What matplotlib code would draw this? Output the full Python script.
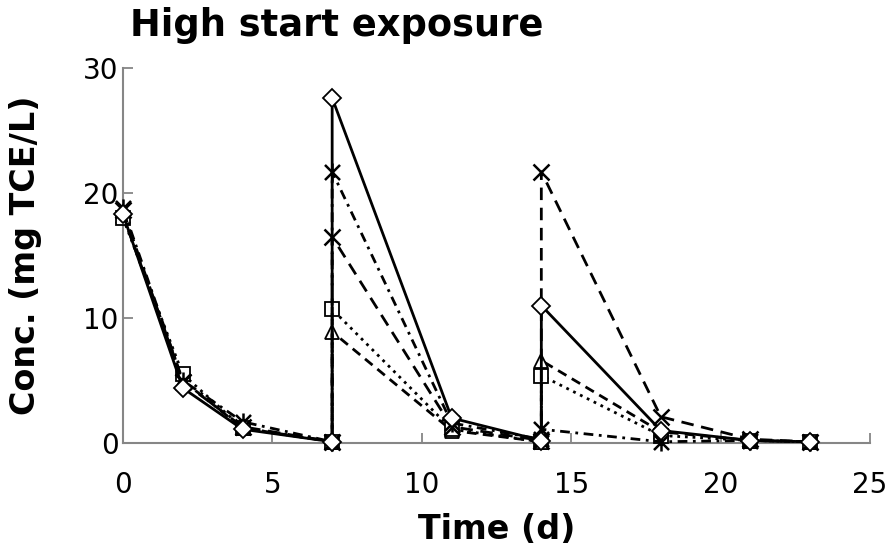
import matplotlib
matplotlib.use("Agg")
import matplotlib.pyplot as plt
from matplotlib.path import Path

# Sampling days (spikes at day 7 and day 14 appear as two points on the same day)
days = [0, 2, 4, 7, 7, 11, 14, 14, 18, 21, 23]

# TCE concentrations (mg/L) for each reactor
conc_diamond = [18.3, 4.4, 1.1, 0.1, 27.6, 2.0, 0.2, 11.0, 1.0, 0.2, 0.1]
conc_square = [18.0, 5.5, 1.2, 0.1, 10.7, 1.1, 0.1, 5.4, 0.6, 0.2, 0.1]
conc_triangle = [18.2, 5.0, 1.2, 0.1, 8.9, 1.0, 0.1, 6.6, 0.9, 0.2, 0.1]
conc_star = [18.8, 5.0, 1.7, 0.1, 21.7, 1.6, 0.3, 1.1, 0.1, 0.2, 0.1]
conc_cross = [18.6, 4.9, 1.3, 0.1, 16.5, 1.3, 0.2, 21.7, 2.1, 0.3, 0.1]

x_ticks = [0, 5, 10, 15, 20, 25]
y_ticks = [0, 10, 20, 30]

plt.rcParams["font.family"] = ["DejaVu Sans"]
plt.rcParams["lines.scale_dashes"] = False

# asterisk marker: an "x" with a vertical stroke
star_path = Path(
    [(-0.5, -0.5), (0.5, 0.5), (-0.5, 0.5), (0.5, -0.5), (0, -0.6), (0, 0.6)],
    [Path.MOVETO, Path.LINETO, Path.MOVETO, Path.LINETO, Path.MOVETO, Path.LINETO],
)

fig = plt.figure(figsize=(8.91, 5.54), dpi=100)
ax = fig.add_axes([123 / 891, 1 - 443 / 554, (870 - 123) / 891, (443 - 68) / 554])

lw = 2.0
common = dict(color="black", linewidth=lw, markeredgecolor="black",
              markerfacecolor="white", clip_on=False)

ax.plot(days, conc_triangle, marker="^", markersize=10, markeredgewidth=1.3,
        linestyle=(0, (7, 4.5)), zorder=3, **common)
ax.plot(days, conc_square, marker="s", markersize=9.5, markeredgewidth=1.3,
        linestyle=(0, (2, 3.5)), zorder=4, **common)
ax.plot(days, conc_star, marker=star_path, markersize=13, markeredgewidth=1.8,
        linestyle=(0, (7, 4, 2, 4)), zorder=5, **common)
ax.plot(days, conc_cross, marker="x", markersize=11, markeredgewidth=1.8,
        linestyle=(0, (9, 5.5)), zorder=6, **common)
ax.plot(days, conc_diamond, marker="D", markersize=9.5, markeredgewidth=1.3,
        linestyle="-", zorder=7, **common)

ax.set_xlim(0, 25)
ax.set_ylim(0, 30)
ax.set_xticks(x_ticks)
ax.set_yticks(y_ticks)

for side in ("top", "right"):
    ax.spines[side].set_visible(False)
for side in ("left", "bottom"):
    ax.spines[side].set_color("#868686")
    ax.spines[side].set_linewidth(1.5)

ax.tick_params(axis="both", direction="in", length=7, width=1.3,
               color="#868686", labelsize=20, labelcolor="black")
ax.tick_params(axis="x", pad=20)
ax.tick_params(axis="y", pad=3)

ax.set_xlabel("Time (d)", fontsize=24, fontweight="bold", labelpad=10)
ax.set_ylabel("Conc. (mg TCE/L)", fontsize=24, fontweight="bold", labelpad=30)

fig.text(130 / 891, 1 - 36 / 554, "High start exposure", fontsize=26.5,
         fontweight="bold", ha="left", va="baseline")

fig.savefig("out.png", dpi=100)
